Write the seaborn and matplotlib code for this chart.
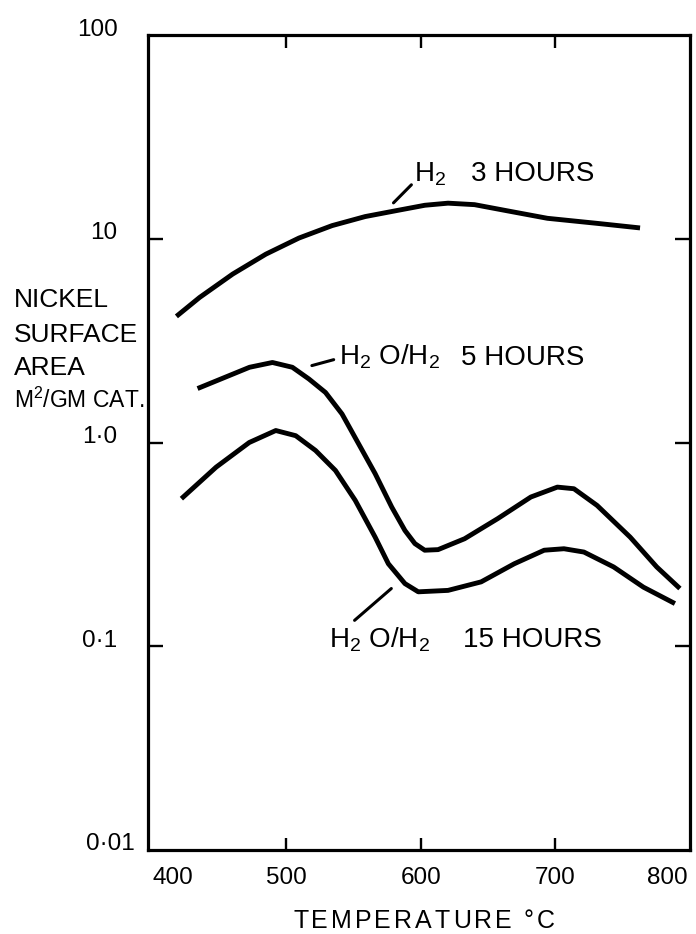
import numpy as np
import pandas as pd
import matplotlib
matplotlib.use("Agg")
import matplotlib.pyplot as plt
import matplotlib.transforms as mtransforms
import seaborn as sns

# ---------------- data ----------------
temp_h2_3h = [418.6, 435.8, 460.4, 485, 509.6, 534.2, 558.8, 583.4, 603.1,
              620.3, 640, 664.6, 694.1, 731, 762.9]
area_h2_3h = [4.16, 5.15, 6.71, 8.4, 10.08, 11.6, 12.85, 13.8, 14.6,
              14.95, 14.7, 13.7, 12.6, 11.9, 11.3]

temp_h2o_5h = [434.3, 472.9, 489.9, 504.7, 517, 529.3, 541.6, 553.9, 566.2,
               578.5, 588.3, 595.7, 603, 612.9, 632.6, 657.2, 681.8, 701.5,
               713.8, 731, 755.6, 775.3, 792.5]
area_h2o_5h = [1.84, 2.34, 2.47, 2.34, 2.05, 1.76, 1.38, 0.985, 0.703,
               0.482, 0.37, 0.319, 0.296, 0.298, 0.337, 0.423, 0.54, 0.604,
               0.593, 0.491, 0.343, 0.245, 0.192]

temp_h2o_15h = [422.3, 448.1, 472.7, 492.4, 507.2, 521.9, 536.7, 551.4, 566.2,
                576, 588.3, 598.2, 620.3, 644.9, 669.5, 691.7, 706.4, 721.2,
                743.3, 765.4, 788.8]
area_h2o_15h = [0.53, 0.757, 1.0, 1.145, 1.08, 0.914, 0.729, 0.52, 0.343,
                0.254, 0.203, 0.185, 0.188, 0.207, 0.254, 0.296, 0.301, 0.29,
                0.245, 0.195, 0.162]

x_ticks = [400, 500, 600, 700, 800]
x_tick_labels = ["400", "500", "600", "700", "800"]
y_ticks = [0.01, 0.1, 1.0, 10, 100]
y_tick_labels = ["0·01", "0·1", "1·0", "10", "100"]

series_names = ["H2 3 HOURS", "H2O/H2 5 HOURS", "H2O/H2 15 HOURS"]

# ---------------- style ----------------
sns.set_style("ticks")
plt.rcParams["font.family"] = ["Liberation Sans", "DejaVu Sans"]
plt.rcParams["mathtext.fontset"] = "custom"
plt.rcParams["mathtext.rm"] = "Liberation Sans"
plt.rcParams["mathtext.it"] = "Liberation Sans"
plt.rcParams["mathtext.bf"] = "Liberation Sans"
plt.rcParams["mathtext.default"] = "regular"
plt.rcParams["text.color"] = "black"
plt.rcParams["axes.labelcolor"] = "black"
plt.rcParams["xtick.color"] = "black"
plt.rcParams["ytick.color"] = "black"

df = pd.concat([
    pd.DataFrame({"temp": temp_h2_3h, "area": area_h2_3h, "series": series_names[0]}),
    pd.DataFrame({"temp": temp_h2o_5h, "area": area_h2o_5h, "series": series_names[1]}),
    pd.DataFrame({"temp": temp_h2o_15h, "area": area_h2o_15h, "series": series_names[2]}),
], ignore_index=True)

fig = plt.figure(figsize=(6.96, 9.34), dpi=100)
ax = fig.add_axes([148 / 696, 1 - 850 / 934, (690 - 148) / 696, (850 - 35) / 934])

sns.lineplot(data=df, x="temp", y="area", hue="series",
             palette=["black"] * 3, legend=False, sort=False, estimator=None,
             lw=3.5, ax=ax)
for ln in ax.get_lines():
    ln.set_solid_joinstyle("round")
    ln.set_solid_capstyle("butt")

ax.set_yscale("log")
ax.set_xlim(397.5, 797.5)
ax.set_ylim(0.01, 100)
ax.set_xlabel("")
ax.set_ylabel("")
ax.minorticks_off()
ax.yaxis.set_minor_locator(matplotlib.ticker.NullLocator())

for s in ax.spines.values():
    s.set_linewidth(2.3)
    s.set_color("black")

ax.set_xticks(x_ticks)
ax.set_xticklabels(x_tick_labels)
ax.set_yticks(y_ticks)
ax.set_yticklabels(y_tick_labels)

ax.tick_params(axis="x", direction="in", length=9, width=1.7, top=True,
               bottom=True, labelsize=17.5, pad=12, colors="black")
ax.tick_params(axis="y", direction="in", length=11, width=1.7, left=True,
               right=True, labelsize=17.5, pad=22, colors="black")

# hide corner tick marks (they sit on the frame)
xt = ax.xaxis.get_major_ticks()
for i in (0, len(xt) - 1):
    xt[i].tick1line.set_visible(False)
    xt[i].tick2line.set_visible(False)
yt = ax.yaxis.get_major_ticks()
for i in (0, len(yt) - 1):
    yt[i].tick1line.set_visible(False)
    yt[i].tick2line.set_visible(False)


def shift(label, dx, dy):
    label.set_transform(label.get_transform() +
                        mtransforms.ScaledTranslation(dx / 100, dy / 100, fig.dpi_scale_trans))


xl = ax.get_xticklabels()
shift(xl[0], 22, 0)
shift(xl[-1], -23, 0)
for lab in ax.get_yticklabels():
    shift(lab, 0, 8)
yl = ax.get_yticklabels()
shift(yl[0], 17, 0)

# ---------------- curve labels ----------------
fs = 20
ax.text(595.2, 19.2, r"H$_2$", fontsize=fs, va="baseline", ha="left")
ax.text(637.3, 19.2, "3 HOURS", fontsize=fs, va="baseline", ha="left")
ax.annotate("", xy=(579.8, 15.0), xytext=(593.1, 18.4),
            arrowprops=dict(arrowstyle="-", lw=2.2, color="black", shrinkA=0, shrinkB=0))

ax.text(539.1, 2.41, r"H$_2$ O/H$_2$", fontsize=fs, va="baseline", ha="left")
ax.text(629.9, 2.41, "5 HOURS", fontsize=fs, va="baseline", ha="left")
ax.annotate("", xy=(519.2, 2.385), xytext=(535.4, 2.55),
            arrowprops=dict(arrowstyle="-", lw=2.2, color="black", shrinkA=0, shrinkB=0))

ax.text(531.7, 0.099, r"H$_2$ O/H$_2$", fontsize=fs, va="baseline", ha="left")
ax.text(631.4, 0.099, "15 HOURS", fontsize=fs, va="baseline", ha="left")
ax.annotate("", xy=(578.2, 0.192), xytext=(550.9, 0.134),
            arrowprops=dict(arrowstyle="-", lw=2.2, color="black", shrinkA=0, shrinkB=0))

# ---------------- axis titles ----------------
ylab_lines = ["NICKEL", "SURFACE", "AREA", r"M$^2$/GM CAT."]
ylab_y = [300, 335, 368, 400]
ylab_size = [19, 19, 19, 16.5]
for t, yy, sz in zip(ylab_lines, ylab_y, ylab_size):
    fig.text(14 / 696, 1 - yy / 934, t, fontsize=sz, ha="left", va="center")


def spaced_text(s, xc, yb, size, extra):
    renderer = fig.canvas.get_renderer()
    widths = []
    for ch in s:
        t = fig.text(0, 0, ch, fontsize=size)
        bb = t.get_window_extent(renderer)
        widths.append(bb.width if ch != " " else size * 0.35)
        t.remove()
    total = sum(widths) + extra * (len(s) - 1)
    x = xc - total / 2
    for ch, w in zip(s, widths):
        fig.text(x / 696, 1 - yb / 934, ch, fontsize=size, ha="left", va="baseline")
        x += w + extra


spaced_text("TEMPERATURE °C", 424, 928, 18, 3.0)

fig.savefig("out.png", dpi=100)
